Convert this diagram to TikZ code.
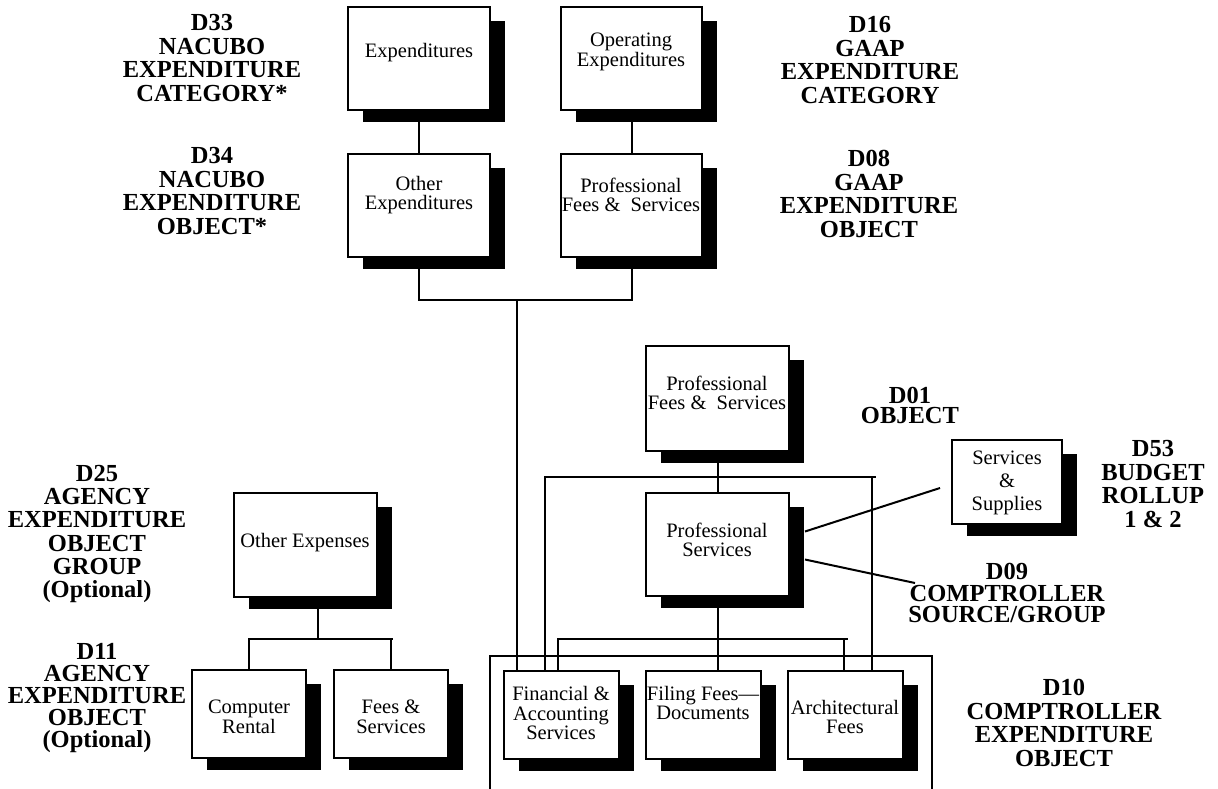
\documentclass[tikz,border=0pt]{standalone}
\usepackage{fontspec}
\setmainfont{Liberation Serif}
\begin{document}
\begin{tikzpicture}[x=1pt,y=-1pt,
  box/.style={draw, line width=2pt, fill=white, inner sep=0pt},
  conn/.style={line width=2pt},
  btxt/.style={font=\fontsize{20.5}{19.5}\selectfont, align=center, inner sep=0pt},
  lbl/.style={font=\fontsize{24.5}{23.5}\selectfont\bfseries, align=center, inner sep=0pt}]
\useasboundingbox (0,0) rectangle (1218,788);
\newcommand\shbox[5]{%
  \fill (#2+15,#3+14) rectangle (#4+15,#5+12);
  \node[box, minimum width={(#4-#2)*1pt}, minimum height={(#5-#3)*1pt}] (#1) at ({(#2+#4)/2},{(#3+#5)/2}) {};}
% connectors
\coordinate (j1) at (517,300);
\coordinate (j2) at (545,477);
\coordinate (j3) at (872,477);
\coordinate (j3e) at (876,477);
\coordinate (j5) at (558,639);
\coordinate (j6) at (848,639);
\coordinate (j7) at (844,639);
\coordinate (k1) at (248,639);
\coordinate (k2) at (393,639);
\coordinate (k3) at (318,639);
\coordinate (e1) at (940,488);
\coordinate (e2) at (915,583);
\coordinate (g1) at (490,790);
\coordinate (g2) at (490,656);
\coordinate (g3) at (932,656);
\coordinate (g4) at (932,790);
% boxes
\shbox{exp}{348}{7}{490}{110}
\shbox{opexp}{561}{7}{702}{110}
\shbox{othexp}{348}{154}{490}{257}
\shbox{proffsa}{561}{154}{702}{257}
\shbox{proffsb}{646}{346}{789}{451}
\shbox{profsvc}{646}{493}{789}{596}
\shbox{fin}{504}{671}{619}{759}
\shbox{filing}{646}{671}{761}{759}
\shbox{arch}{788}{671}{903}{759}
\shbox{othexps}{234}{493}{377}{597}
\shbox{comp}{192}{670}{306}{758}
\shbox{fees}{334}{670}{448}{758}
\shbox{svcsup}{952}{440}{1062}{524}
% lines
\draw[conn] (exp.south) -- (othexp.north);
\draw[conn] (opexp.south) -- (proffsa.north);
\draw[conn] (othexp.south) |- (j1) -| (proffsa.south);
\draw[conn] (j1) -- (j1 |- fin.north);
\draw[conn] (proffsb.south) -- (profsvc.north);
\draw[conn] (j2 |- fin.north) -- (j2) -- (j3e);
\draw[conn] (j3) -- (j3 |- arch.north);
\draw[conn] (profsvc.south) -- (profsvc.south |- filing.north);
\draw[conn] (j5 |- fin.north) -- (j5) -- (j6);
\draw[conn] (j7) -- (j7 |- arch.north);
\draw[conn] (k3 |- othexps.south) -- (k3);
\draw[conn] (k1) -- (k2);
\draw[conn] (comp.north |- k1) -- (comp.north);
\draw[conn] (fees.north |- k1) -- (fees.north);
\draw[conn] ([shift={(15,-13)}]profsvc.east) -- (e1);
\draw[conn] ([shift={(15,15)}]profsvc.east) -- (e2);
\draw[conn] (g1) -- (g2) -- (g3) -- (g4);
% box texts
\node[btxt] (t-exp) at (419,53) {Expenditures};
\node[btxt] (t-opexp) at (631,52) {Operating\\Expenditures};
\node[btxt] (t-othexp) at (419,195) {Other\\Expenditures};
\node[btxt] (t-proffsa) at (631,195) {Professional\\Fees \&~ Services};
\node[btxt] (t-proffsb) at (717,393) {Professional\\Fees \&~ Services};
\node[btxt] (t-profsvc) at (717,540) {Professional\\Services};
\node[btxt] (t-fin) at (561,713) {Financial \&\\Accounting\\Services};
\node[btxt] (t-filing) at (703,703) {Filing Fees—\\Documents};
\node[btxt] (t-arch) at (845,717) {Architectural\\Fees};
\node[btxt] (t-othexps) at (305,543) {Other Expenses};
\node[btxt] (t-comp) at (249,717) {Computer\\Rental};
\node[btxt] (t-fees) at (391,717) {Fees \&\\Services};
\node[btxt, font=\fontsize{20.5}{23}\selectfont] (t-svcsup) at (1007,483) {Services\\\&\\Supplies};
% labels
\node[lbl] (l33) at (212,58) {D33\\NACUBO\\EXPENDITURE\\CATEGORY*};
\node[lbl] (l34) at (212,191) {D34\\NACUBO\\EXPENDITURE\\OBJECT*};
\node[lbl] (l16) at (870,60) {D16\\GAAP\\EXPENDITURE\\CATEGORY};
\node[lbl] (l08) at (869,194) {D08\\GAAP\\EXPENDITURE\\OBJECT};
\node[lbl, font=\fontsize{24.5}{20}\selectfont\bfseries] (l01) at (910,405) {D01\\OBJECT};
\node[lbl] (l53) at (1153,484) {D53\\BUDGET\\ROLLUP\\1 \& 2};
\node[lbl, font=\fontsize{24.5}{21.5}\selectfont\bfseries] (l09) at (1007,593) {D09\\COMPTROLLER\\SOURCE/GROUP};
\node[lbl, font=\fontsize{24.5}{23.2}\selectfont\bfseries] (l25) at (97,534) {D25\\AGENCY\\EXPENDITURE\\OBJECT\\GROUP\\(Optional)};
\node[lbl, font=\fontsize{24.5}{22.2}\selectfont\bfseries] (l11) at (97,698) {D11\\AGENCY\\EXPENDITURE\\OBJECT\\(Optional)};
\node[lbl] (l10) at (1064,723) {D10\\COMPTROLLER\\EXPENDITURE\\OBJECT};
\end{tikzpicture}
\end{document}
